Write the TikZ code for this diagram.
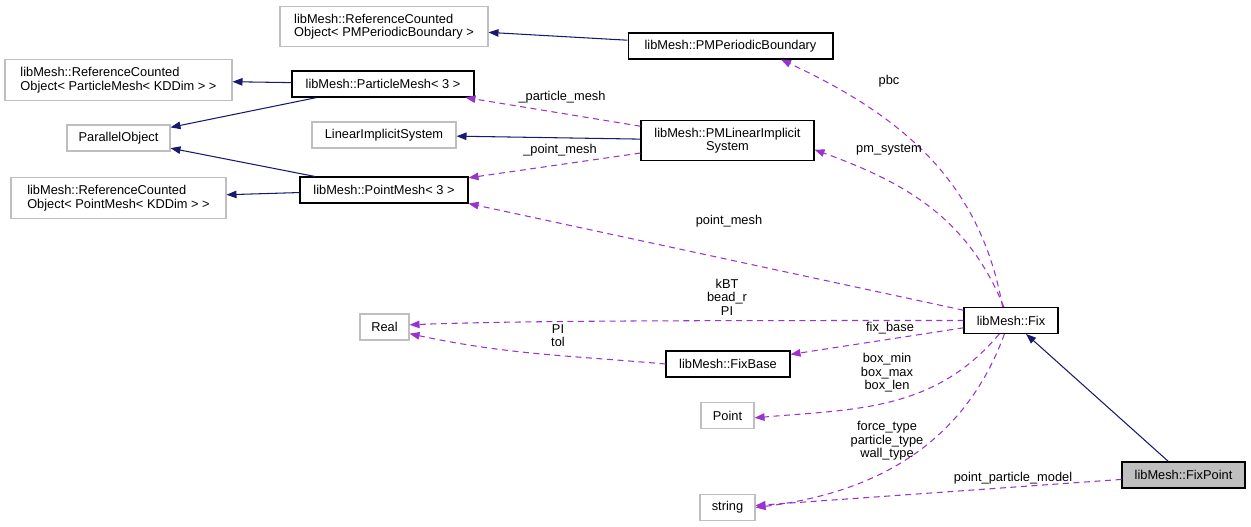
\documentclass[tikz,border=0pt]{standalone}
\usepackage{fontspec}
\setmainfont{Liberation Sans}
\usepackage{xcolor}
\usepackage{tikz}
\usetikzlibrary{arrows.meta}
\definecolor{edgeblue}{RGB}{25,25,112}
\definecolor{edgepurple}{RGB}{154,50,205}
\definecolor{boxgray}{RGB}{191,191,191}

\begin{document}
\begin{tikzpicture}[
    x=0.02cm, y=-0.02cm,
    font=\fontsize{7.3}{7.7}\selectfont,
    cls/.style={rectangle, draw=black, line width=0.6pt, inner sep=0pt, minimum height=0.52cm, align=center, fill=white},
    ext/.style={cls, draw=boxgray},
    extwo/.style={ext, minimum height=0.81cm, align=left},
    self/.style={cls, fill=boxgray},
    inh/.style={-{Triangle[length=2mm, width=1.5mm]}, edgeblue, line width=0.6pt},
    dep/.style={inh, edgepurple, dash pattern=on 3.4pt off 2.6pt},
    lbl/.style={align=center, inner sep=0pt}
]
    \useasboundingbox (0,0) rectangle (1251,527);

    \node[extwo, minimum width=4.16cm] (rcopbc) at (384,26.5) {libMesh::ReferenceCounted\\Object< PMPeriodicBoundary >};
    \node[cls, minimum width=4.10cm] (pmpb) at (730.5,46) {libMesh::PMPeriodicBoundary};
    \node[extwo, minimum width=4.54cm] (rcopart) at (118.5,80) {libMesh::ReferenceCounted\\Object< ParticleMesh< KDDim > >};
    \node[cls, minimum width=3.64cm] (partmesh) at (383,84) {libMesh::ParticleMesh< 3 >};
    \node[ext, minimum width=2.06cm] (parobj) at (118.5,138) {ParallelObject};
    \node[ext, minimum width=2.88cm] (linsys) at (384,135) {LinearImplicitSystem};
    \node[cls, minimum width=3.46cm, minimum height=0.79cm] (pmsys) at (727.5,140.5) {libMesh::PMLinearImplicit\\System};
    \node[extwo, minimum width=4.30cm] (rcopt) at (118.5,198) {libMesh::ReferenceCounted\\Object< PointMesh< KDDim > >};
    \node[cls, minimum width=3.36cm] (ptmesh) at (384,190) {libMesh::PointMesh< 3 >};
    \node[ext, minimum width=0.98cm] (real) at (384.5,327) {Real};
    \node[cls, minimum width=1.88cm] (fix) at (1011,320.5) {libMesh::Fix};
    \node[cls, minimum width=2.48cm] (fixbase) at (728,364) {libMesh::FixBase};
    \node[ext, minimum width=1.06cm] (point) at (727.5,415.5) {Point};
    \node[self, minimum width=2.46cm] (fixpt) at (1183.5,475) {libMesh::FixPoint};
    \node[ext, minimum width=1.10cm] (str) at (727.5,507.5) {string};

    \draw[inh] (pmpb) -- (rcopbc);
    \draw[inh] (partmesh) -- (rcopart);
    \draw[inh] (partmesh) -- (parobj);
    \draw[inh] (ptmesh) -- (parobj);
    \draw[inh] (ptmesh) -- (rcopt);
    \draw[inh] (pmsys) -- (linsys);
    \draw[inh] (fixpt) -- (fix);

    \draw[dep] (pmsys) -- (partmesh);
    \draw[dep] (pmsys) -- (ptmesh);
    \draw[dep] (fix.122) to[out=100, in=-25] (pmpb.-15);
    \draw[dep] (fix.118) to[out=112, in=-20] (pmsys.-6);
    \draw[dep] (fix) -- (ptmesh.south east);
    \draw[dep] (fix.west) .. controls (700,320.5) and (520,320.5) .. (real.5);
    \draw[dep] (fixbase.west) to[out=175, in=-12] (real.-15);
    \draw[dep] (fix) -- (fixbase);
    \draw[dep] (fix.-131) to[out=230, in=5] (point.-5);
    \draw[dep] (fix.-116) to[out=250, in=7] (str.east);
    \draw[dep] (fixpt) -- (str);

    \node[lbl] (lpart) at (562,97) {\_particle\_mesh};
    \node[lbl] (lpt) at (560,150) {\_point\_mesh};
    \node[lbl] (lpbc) at (889,81) {pbc};
    \node[lbl] (lsys) at (889,150) {pm\_system};
    \node[lbl] (lptm) at (729,221) {point\_mesh};
    \node[lbl] (lkbt) at (727,297) {kBT\\bead\_r\\PI};
    \node[lbl] (lpi) at (558,335.5) {PI\\tol};
    \node[lbl] (lfb) at (890,328) {fix\_base};
    \node[lbl] (lbox) at (887,373) {box\_min\\box\_max\\box\_len};
    \node[lbl] (lforce) at (887,441) {force\_type\\particle\_type\\wall\_type};
    \node[lbl] (lppm) at (1013,478) {point\_particle\_model};
\end{tikzpicture}
\end{document}
